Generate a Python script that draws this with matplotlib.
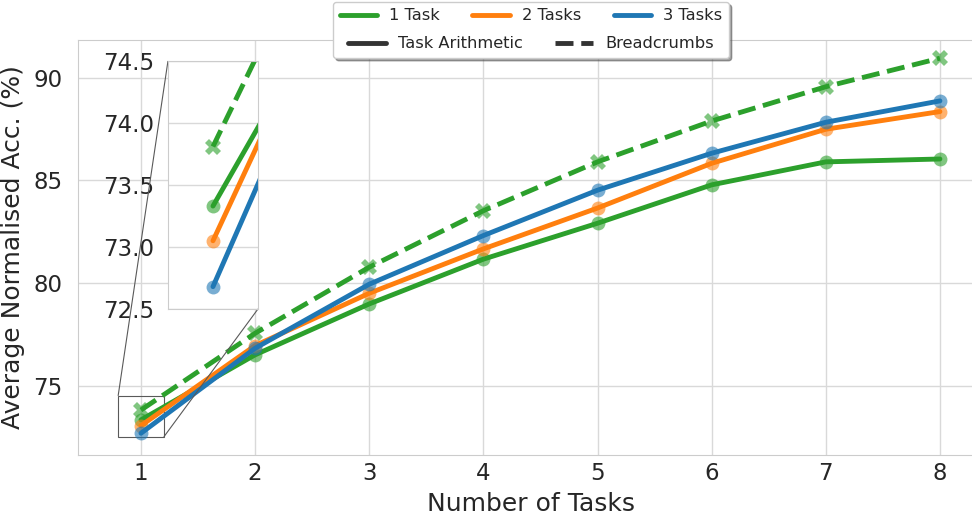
import matplotlib
matplotlib.use("Agg")
import matplotlib.pyplot as plt
import seaborn as sns
from matplotlib.lines import Line2D
from matplotlib.legend import Legend
from mpl_toolkits.axes_grid1.inset_locator import mark_inset

# ---- data -------------------------------------------------------------
num_tasks = [1, 2, 3, 4, 5, 6, 7, 8]
ta_1task = [73.33, 76.50, 78.98, 81.16, 82.91, 84.78, 85.90, 86.04]
ta_2tasks = [73.05, 76.95, 79.50, 81.66, 83.65, 85.83, 87.49, 88.35]
ta_3tasks = [72.68, 76.82, 79.94, 82.31, 84.52, 86.32, 87.83, 88.87]
bc_1task = [73.81, 77.55, 80.77, 83.52, 85.90, 87.89, 89.56, 90.95]

main_yticks = [75, 80, 85, 90]
inset_yticks = [72.5, 73.0, 73.5, 74.0, 74.5]

series_labels = ["1 Task", "2 Tasks", "3 Tasks"]
method_labels = ["Task Arithmetic", "Breadcrumbs"]
colors = ["#2ca02c", "#ff7f0e", "#1f77b4"]

# ---- style ------------------------------------------------------------
sns.set_style("whitegrid")
plt.rcParams["font.family"] = ["DejaVu Sans"]

fig = plt.figure(figsize=(9.72, 5.16), dpi=100)
ax = fig.add_axes([0.0802, 0.1182, 0.932, 0.8052])

LW = 3.5
MS_O = 10
MS_X = 11


def draw_series(a):
    for vals, c in zip([ta_1task, ta_2tasks, ta_3tasks], colors):
        fc = matplotlib.colors.to_rgba(c, 0.6)
        a.plot(num_tasks, vals, color=c, lw=LW, ls="-", marker="o",
               ms=MS_O, mfc=fc, mec=fc, mew=0)
    c = colors[0]
    fc = matplotlib.colors.to_rgba(c, 0.6)
    a.plot(num_tasks, bc_1task, color=c, lw=LW, ls="--", marker="X",
           ms=MS_X, mfc=fc, mec=fc, mew=0)


draw_series(ax)

ax.set_xlim(0.448, 8.385)
ax.set_ylim(71.62, 91.86)
ax.set_xticks(num_tasks)
ax.set_yticks(main_yticks)
ax.tick_params(axis="both", labelsize=16.5, colors="#262626")
ax.tick_params(axis="y", pad=7.5)
ax.tick_params(axis="x", pad=1.5)
ax.set_xlabel("Number of Tasks", fontsize=18, color="#262626", labelpad=5)
ax.set_ylabel("Average Normalised Acc. (%)", fontsize=18, color="#262626",
              labelpad=6)
for s in ax.spines.values():
    s.set_edgecolor("0.8")
ax.grid(color="0.85", lw=1.0)

# ---- zoomed inset around the first point ------------------------------
axins = fig.add_axes([0.1728, 0.4012, 0.0926, 0.4806])
draw_series(axins)
axins.set_xlim(0.8, 1.2)
axins.set_ylim(72.5, 74.5)
axins.set_xticks([])
axins.set_yticks(inset_yticks)
axins.set_yticklabels([f"{v:.1f}" for v in inset_yticks])
axins.tick_params(axis="y", labelsize=16.5, colors="#262626", pad=6.5)
axins.grid(color="0.85", lw=1.0)
for s in axins.spines.values():
    s.set_edgecolor("0.8")
mark_inset(ax, axins, loc1=2, loc2=4, fc="none", ec="0.35", lw=0.8)

# ---- legend: colours in the first row, methods in the second ----------
row1 = [Line2D([], [], color=c, lw=3.5) for c in colors]
row2 = [Line2D([], [], color="#333333", lw=3.5, ls="-"),
        Line2D([], [], color="#333333", lw=3.5, ls="--")]
leg_kw = dict(fontsize=11.7, handlelength=2.3, columnspacing=2.0,
              handletextpad=0.75, labelspacing=0.8, borderpad=0.4)
leg = ax.legend(row1, series_labels, ncol=3, loc="upper center",
                bbox_to_anchor=(531 / 972, 1 - 2 / 516),
                bbox_transform=fig.transFigure, borderaxespad=0,
                frameon=True, shadow=True, framealpha=1, edgecolor="0.8",
                **leg_kw)
leg2 = Legend(ax, row2, method_labels, ncol=2, **leg_kw)
leg._legend_box._children.append(leg2._legend_handle_box)
leg.set_zorder(10)

fig.savefig("out.png", dpi=100)
